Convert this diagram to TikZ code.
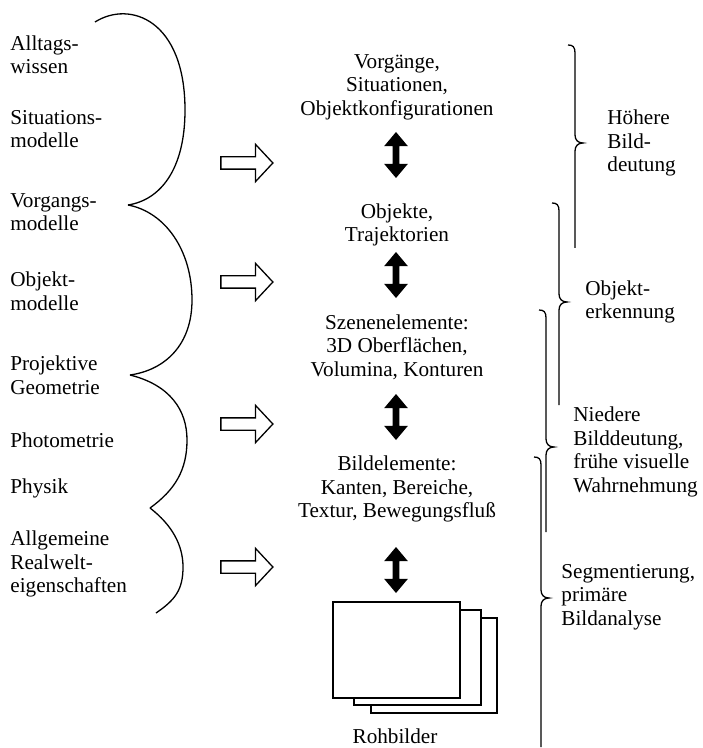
\documentclass[tikz,border=0pt]{standalone}
\usepackage{fontspec}
\setmainfont{Liberation Serif}
\usetikzlibrary{shapes.arrows}

% right-hand brace: line x, top, tip, bottom
\newcommand\rcurl[4]{%
  \draw[curl] (#1-7,#2) .. controls (#1-2,#2) and (#1,#2+2) .. (#1,#2+8)
    -- (#1,#3-8) .. controls (#1,#3-3) and (#1+3,#3) .. (#1+8,#3)
    .. controls (#1+3,#3) and (#1,#3+3) .. (#1,#3+8) -- (#1,#4);}

\begin{document}
\begin{tikzpicture}[x=0.5pt,y=-0.5pt,
  every node/.style={font=\fontsize{10.6}{11.75}\selectfont,inner sep=0pt},
  lefttext/.style={align=left,anchor=west},
  midtext/.style={align=center},
  hollow/.style={single arrow,draw,line width=0.65pt,minimum height=26pt,
    inner sep=2.75pt,single arrow head extend=6.25pt,single arrow tip angle=94},
  twoway/.style={double arrow,fill=black,rotate=90,minimum height=23pt,
    inner sep=1.5pt,double arrow head extend=4.25pt,double arrow tip angle=80},
  curl/.style={line width=0.65pt},
  frame/.style={draw,fill=white,line width=0.65pt}]
\useasboundingbox (0,0) rectangle (702,748);

% middle column
\node[midtext] (vorg) at (397,87) {Vorgänge,\\Situationen,\\Objektkonfigurationen};
\node[midtext] (obj) at (397,225) {Objekte,\\Trajektorien};
\node[midtext] (szene) at (397,347) {Szenenelemente:\\3D Oberflächen,\\Volumina, Konturen};
\node[midtext] (bild) at (397,489) {Bildelemente:\\Kanten, Bereiche,\\Textur, Bewegungsfluß};
\node[anchor=base] (roh) at (395,743) {Rohbilder};

\node[twoway] (d1) at (396,155) {};
\node[twoway] (d2) at (396,275) {};
\node[twoway] (d3) at (396,417) {};
\node[twoway] (d4) at (396,570) {};

\draw[frame] (371,618) rectangle (497,713);
\draw[frame] (354,610) rectangle (481,705);
\draw[frame] (333,602) rectangle (460,698);

% knowledge on the left
\node[lefttext] (alltag) at (10,55) {Alltags-\\wissen};
\node[lefttext] (situ) at (10,129) {Situations-\\modelle};
\node[lefttext] (vorgm) at (10,212) {Vorgangs-\\modelle};
\node[lefttext] (objm) at (10,291) {Objekt-\\modelle};
\node[lefttext] (proj) at (10,375) {Projektive\\Geometrie};
\node[lefttext] (photo) at (10,440) {Photometrie};
\node[lefttext] (phys) at (10,488) {Physik};
\node[lefttext] (allg) at (10,564) {Allgemeine\\Realwelt-\\eigenschaften};

\draw[curl] (95,22) .. controls (130,0) and (185,20) .. (185,110)
  .. controls (185,170) and (160,200) .. (128,205);
\draw[curl] (128,205) .. controls (165,212) and (192,250) .. (192,300)
  .. controls (192,345) and (165,370) .. (130,375);
\draw[curl] (130,375) .. controls (170,385) and (187,410) .. (187,440)
  .. controls (187,470) and (175,490) .. (150,508);
\draw[curl] (150,508) .. controls (172,525) and (183,545) .. (183,567)
  .. controls (183,590) and (175,600) .. (156,613);

\node[hollow] (h1) at (244,163) {};
\node[hollow] (h2) at (244,282) {};
\node[hollow] (h3) at (244,424) {};
\node[hollow] (h4) at (244,567) {};

% levels on the right
\rcurl{575}{45}{143}{248}
\rcurl{559}{203}{302}{405}
\rcurl{546}{310}{447}{532}
\rcurl{541}{457}{598}{747}

\node[lefttext] (hoeher) at (607,143) {Höhere\\Bild-\\deutung};
\node[lefttext] (objerk) at (585,302) {Objekt-\\erkennung};
\node[lefttext] (nieder) at (573,452) {Niedere\\Bilddeutung,\\frühe visuelle\\Wahrnehmung};
\node[lefttext] (segm) at (561,597) {Segmentierung,\\primäre\\Bildanalyse};
\end{tikzpicture}
\end{document}
